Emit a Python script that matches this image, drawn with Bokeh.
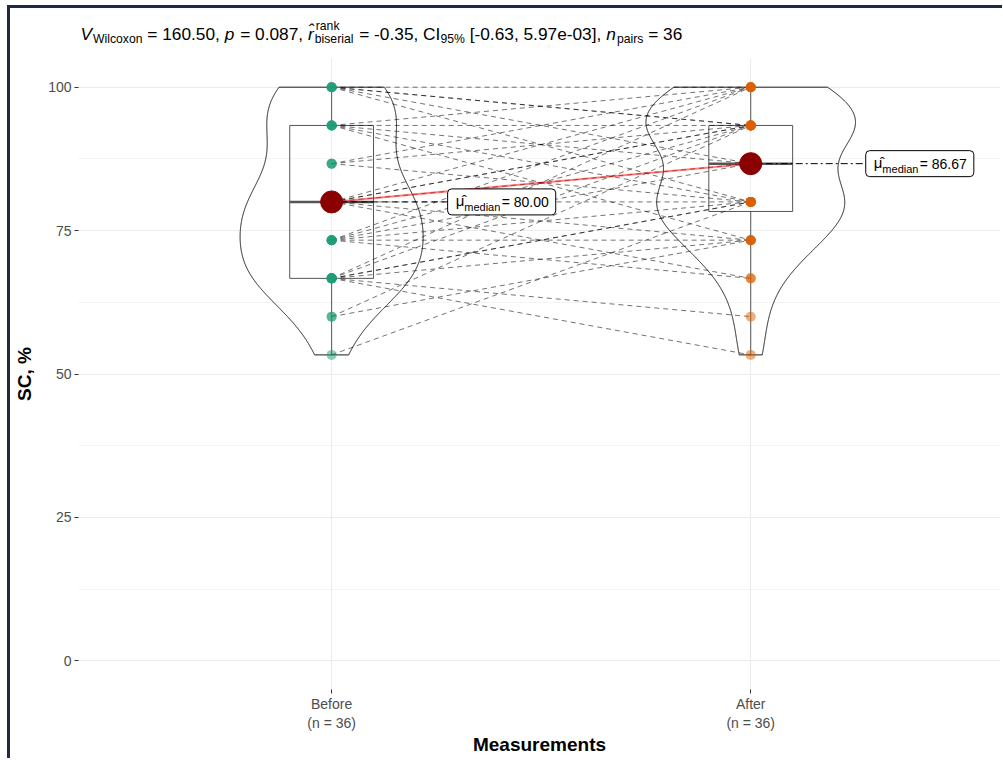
import numpy as np
from bokeh.plotting import figure
from bokeh.models import Label, Range1d, FixedTicker
from bokeh.layouts import column
from bokeh.embed import file_html
from bokeh.resources import INLINE

# ---------------- data ----------------
conditions = ["Before", "After"]
group_n = [36, 36]
group_colors = ["#1B9E77", "#D95F02"]

# paired observations (row i of before is paired with row i of after)
before = [53.33,
          60.00, 60.00,
          66.67, 66.67, 66.67, 66.67, 66.67, 66.67, 66.67,
          73.33, 73.33, 73.33, 73.33, 73.33, 73.33,
          80.00, 80.00, 80.00, 80.00, 80.00, 80.00, 80.00,
          86.67, 86.67, 86.67,
          93.33, 93.33, 93.33, 93.33, 93.33,
          100.00, 100.00, 100.00, 100.00, 100.00]
after = [80.00,
         73.33, 93.33,
         53.33, 60.00, 80.00, 80.00, 93.33, 100.00, 73.33,
         66.67, 80.00, 86.67, 93.33, 100.00, 73.33,
         66.67, 80.00, 86.67, 93.33, 100.00, 73.33, 93.33,
         80.00, 100.00, 93.33,
         73.33, 86.67, 100.00, 80.00, 93.33,
         100.00, 93.33, 80.00, 86.67, 93.33]

y_ticks = [0, 25, 50, 75, 100]
y_minor_ticks = [12.5, 37.5, 62.5, 87.5]
x_title = "Measurements"
y_title = "SC, %"

# subtitle pieces: (text, kind) m=main, mi=main italic, s=subscript, ss=(sup, sub) stack
stat_pieces = [
    ("V", "mi"), ("Wilcoxon", "s"), (" = 160.50, ", "m"),
    ("p", "mi"), (" = 0.087, ", "m"),
    ("r\u0302", "mi"), (("rank", "biserial"), "ss"),
    (" = -0.35, CI", "m"), ("95%", "s"),
    (" [-0.63, 5.97e-03], ", "m"),
    ("n", "mi"), ("pairs", "s"), (" = 36", "m"),
]

# ---------------- layout ----------------
FONT = "Liberation Sans"
PAGE_X0 = 10                 # page x of the canvases' left edge (margin + border)
W = 992
TH = 45                      # height of the subtitle strip
H = 705
ML, MR, MT, MB = 68, 2, 5, 69
FW = W - ML - MR
FH = H - MT - MB
X0 = 0.396
X1 = X0 + 2.2
Y0, Y1 = -5, 105
PX_PER_X = FW / (X1 - X0)

CW = {' ': 278, ',': 278, '.': 278, '-': 333, '=': 584, '[': 278, ']': 278, '%': 889,
      'a': 556, 'b': 556, 'c': 500, 'd': 556, 'e': 556, 'i': 222, 'k': 500, 'l': 222,
      'm': 833, 'n': 556, 'o': 556, 'p': 556, 'r': 333, 's': 500, 'x': 500,
      'W': 944, 'V': 667, 'C': 722, 'I': 278, '\u03bc': 576, '\u0302': 0}


def tw(s, size):
    return sum(CW.get(ch, 556) for ch in s) / 1000.0 * size


# ---- subtitle strip (its frame is aligned with the main frame by the column) ----
fx0 = PAGE_X0 + ML
t = figure(width=W, height=TH, x_range=Range1d(fx0, fx0 + FW), y_range=Range1d(0, TH),
           output_backend="svg", toolbar_location=None, x_axis_type=None, y_axis_type=None,
           min_border=0, min_border_left=ML, min_border_right=MR)
t.outline_line_color = None
t.background_fill_color = "white"
t.border_fill_color = "white"
t.xgrid.visible = False
t.ygrid.visible = False

MAIN, SUB = 17.3, 12.2
TB = 20
xcur = 80.0
for text, kind in stat_pieces:
    if kind == "ss":
        sup, sub = text
        t.add_layout(Label(x=xcur + 1, y=TB + 8, text=sup,
                           text_font=FONT, text_font_size=f"{SUB}px", text_color="black",
                           text_baseline="alphabetic"))
        t.add_layout(Label(x=xcur, y=TB - 5, text=sub,
                           text_font=FONT, text_font_size=f"{SUB}px", text_color="black",
                           text_baseline="alphabetic"))
        xcur += max(tw(sup, SUB), tw(sub, SUB)) + 1
        continue
    size = SUB if kind == "s" else MAIN
    lead = len(text) - len(text.lstrip(" "))
    stripped = text.strip(" ")
    x_text = xcur + tw(" " * lead, size)
    yb = TB - 5 if kind == "s" else TB
    t.add_layout(Label(x=x_text, y=yb, text=stripped,
                       text_font=FONT, text_font_size=f"{size}px", text_color="black",
                       text_font_style="italic" if kind == "mi" else "normal",
                       text_baseline="alphabetic"))
    xcur += tw(text, size) + (1 if kind == "mi" else 0)

# ---- main panel ----
p = figure(width=W, height=H, x_range=Range1d(X0, X1), y_range=Range1d(Y0, Y1),
           output_backend="svg", toolbar_location=None,
           min_border_left=ML, min_border_right=MR, min_border_top=MT, min_border_bottom=MB)
p.outline_line_color = None
p.background_fill_color = "white"
p.border_fill_color = "white"

p.xaxis.ticker = FixedTicker(ticks=[1, 2])
p.xaxis.major_label_overrides = {i + 1: f"{c}\n(n = {n})" for i, (c, n) in enumerate(zip(conditions, group_n))}
p.yaxis.ticker = FixedTicker(ticks=y_ticks, minor_ticks=y_minor_ticks)
for ax in (p.xaxis[0], p.yaxis[0]):
    ax.axis_line_color = None
    ax.major_tick_line_color = "#333333"
    ax.major_tick_out = 4
    ax.major_tick_in = 0
    ax.minor_tick_out = 0
    ax.minor_tick_in = 0
    ax.major_label_text_font = FONT
    ax.major_label_text_font_size = "14px"
    ax.major_label_text_color = "#4d4d4d"
    ax.axis_label_text_font = FONT
    ax.axis_label_text_font_size = "19px"
    ax.axis_label_text_font_style = "bold"
    ax.axis_label_text_color = "black"
p.xaxis.axis_label = x_title
p.yaxis.axis_label = y_title
p.xaxis.major_label_standoff = 2
p.xaxis.axis_label_standoff = 0
p.yaxis.major_label_standoff = 3
p.yaxis.axis_label_standoff = 10

p.xgrid.grid_line_color = "#ebebeb"
p.ygrid.grid_line_color = "#ebebeb"
p.ygrid.minor_grid_line_color = "#ebebeb"
p.ygrid.minor_grid_line_width = 0.6

groups = [np.array(before, dtype=float), np.array(after, dtype=float)]
centers = [1, 2]


def nrd0(x):
    q1, q3 = np.percentile(x, [25, 75])
    lo = min(np.std(x, ddof=1), (q3 - q1) / 1.34)
    return 0.9 * lo * len(x) ** (-0.2)


# violins (Gaussian KDE, trimmed, scale = "area", width 0.5)
grids, dens = [], []
for g in groups:
    grid = np.linspace(g.min(), g.max(), 512)
    bw = nrd0(g)
    d = np.exp(-0.5 * ((grid[:, None] - g[None, :]) / bw) ** 2).sum(axis=1) / (len(g) * bw * np.sqrt(2 * np.pi))
    grids.append(grid)
    dens.append(d)
dmax = max(d.max() for d in dens)
for c, grid, d in zip(centers, grids, dens):
    hw = 0.25 * d / dmax
    xs = np.concatenate([c - hw, (c + hw)[::-1]])
    ys = np.concatenate([grid, grid[::-1]])
    p.patch(xs, ys, fill_color="white", fill_alpha=0.2, line_color="#1a1a1a", line_width=1)

# boxplots
for c, g in zip(centers, groups):
    q1, med, q3 = np.percentile(g, [25, 50, 75])
    p.quad(left=c - 0.1, right=c + 0.1, bottom=q1, top=q3, fill_alpha=0,
           line_color="#555555", line_width=1)
    p.segment(x0=[c, c], y0=[q3, q1], x1=[c, c], y1=[g.max(), g.min()],
              line_color="#555555", line_width=1)
    p.segment(x0=c - 0.1, y0=med, x1=c + 0.1, y1=med, line_color="#555555", line_width=2.5)

# paired paths
p.segment(x0=[1] * len(before), y0=before, x1=[2] * len(after), y1=after,
          line_color="black", line_alpha=0.55, line_width=1, line_dash="5 4")

# points
for c, g, col in zip(centers, groups, group_colors):
    p.scatter(x=[c] * len(g), y=g, size=10, fill_color=col, fill_alpha=0.5, line_color=None)

# medians
meds = [float(np.median(g)) for g in groups]
p.line(centers, meds, line_color="red", line_alpha=0.5, line_width=2)

label_gap = [116, 115]
dashes = ["6 4", "7 3 2 3"]
for c, m, gap, dsh in zip(centers, meds, label_gap, dashes):
    p.segment(x0=c, y0=m, x1=c + gap / PX_PER_X, y1=m, line_color="black", line_width=1, line_dash=dsh)

p.scatter(centers, meds, size=22, color="#8b0000")

# median labels
MU_SIZE, SUB_SIZE, VAL_SIZE = 15, 11, 14
for c, m, gap in zip(centers, meds, label_gap):
    mu_w = tw("\u03bc", MU_SIZE)
    sub_w = tw("median", SUB_SIZE)
    pad_l = int(round(8 + mu_w + sub_w + 1))
    box = Label(x=c, y=m, x_offset=gap, y_offset=0, text=f"= {m:.2f}",
                text_font=FONT, text_font_size=f"{VAL_SIZE}px", text_color="black",
                text_align="left", text_baseline="middle",
                background_fill_color="white", border_line_color="black", border_line_width=1,
                padding=dict(left=pad_l, right=7, top=5, bottom=5), border_radius=4)
    p.add_layout(box)
    p.add_layout(Label(x=c, y=m, x_offset=gap + 8, y_offset=1, text="\u03bc\u0302",
                       text_font=FONT, text_font_size=f"{MU_SIZE}px", text_color="black",
                       text_align="left", text_baseline="middle"))
    p.add_layout(Label(x=c, y=m, x_offset=gap + 8 + mu_w, y_offset=-5, text="median",
                       text_font=FONT, text_font_size=f"{SUB_SIZE}px", text_color="black",
                       text_align="left", text_baseline="middle"))

layout = column(t, p, spacing=0,
                styles={"margin-left": "7px", "margin-top": "5px",
                        "border-left": "3px solid #1f2a44", "border-top": "3px solid #1f2a44"})

open("out.html", "w").write(file_html(layout, INLINE))
